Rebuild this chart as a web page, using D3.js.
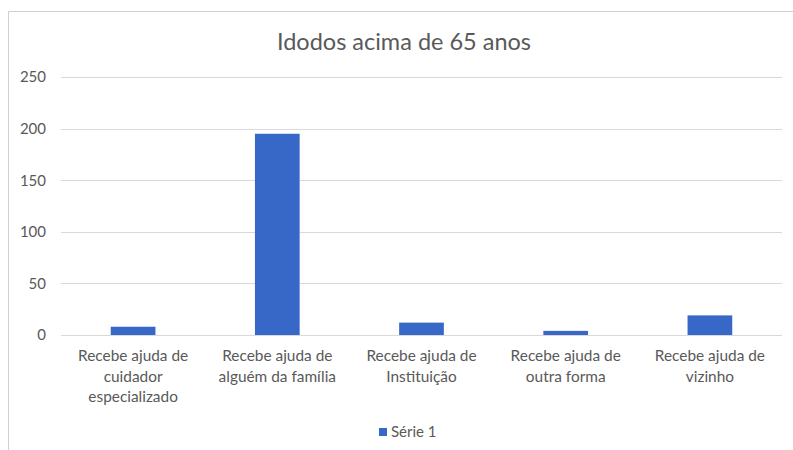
<!DOCTYPE html>
<html>
<head>
<meta charset="utf-8">
<script src="https://cdn.jsdelivr.net/npm/d3@7"></script>
<style>
  html, body { margin: 0; padding: 0; background: #fff; }
  svg { display: block; }
  text { font-family: Lato, "Open Sans", sans-serif; fill: #595959; }
</style>
</head>
<body>
<svg id="chart" width="793" height="450"></svg>
<script>
const title = "Idodos acima de 65 anos";
const categories = [
  ["Recebe ajuda de", "cuidador", "especializado"],
  ["Recebe ajuda de", "alguém da família"],
  ["Recebe ajuda de", "Instituição"],
  ["Recebe ajuda de", "outra forma"],
  ["Recebe ajuda de", "vizinho"]
];
const seriesName = "Série 1";
const values = [8, 195, 12, 4, 19];
const yTicks = [0, 50, 100, 150, 200, 250];

const svg = d3.select("#chart");
const W = 793, H = 450;
const margin = { left: 61, right: 11, top: 77, bottom: 115 };

// outer border (partially cropped in original)
svg.append("path")
  .attr("d", `M8.5,${H} V11.5 H${W}`)
  .attr("fill", "none")
  .attr("stroke", "#d0d0d0")
  .attr("stroke-width", 1);

const keys = categories.map((c, i) => i);
const x = d3.scaleBand().domain(keys).range([margin.left, W - margin.right]).paddingInner(0.69).paddingOuter(0.345);
const y = d3.scaleLinear().domain([0, 250]).range([H - margin.bottom, margin.top]);

// gridlines
svg.append("g")
  .selectAll("line")
  .data(yTicks)
  .join("line")
  .attr("x1", margin.left)
  .attr("x2", W - margin.right)
  .attr("y1", d => Math.round(y(d)) + 0.5)
  .attr("y2", d => Math.round(y(d)) + 0.5)
  .attr("stroke", "#d9d9d9")
  .attr("stroke-width", 1);

// y axis labels
const yAxis = d3.axisLeft(y).tickValues(yTicks).tickSize(0).tickPadding(0);
const gy = svg.append("g").attr("transform", `translate(46,0)`).call(yAxis);
gy.select(".domain").remove();
gy.selectAll("text").style("font-size", "15px").attr("fill", "#595959").style("font-family", "Lato, 'Open Sans', sans-serif");

// bars
svg.append("g")
  .selectAll("rect")
  .data(values)
  .join("rect")
  .attr("x", (d, i) => x(i))
  .attr("width", x.bandwidth())
  .attr("y", d => y(d))
  .attr("height", d => y(0) - y(d))
  .attr("fill", "#3768c8");

// category labels
const xAxis = d3.axisBottom(x).tickSize(0).tickFormat(() => "");
const gx = svg.append("g").attr("transform", `translate(0,${y(0)})`).call(xAxis);
gx.select(".domain").remove();
gx.selectAll(".tick").each(function(d) {
  const t = d3.select(this).append("text")
    .attr("text-anchor", "middle")
    .style("font-size", "15.4px")
    .attr("fill", "#595959");
  categories[d].forEach((line, j) => {
    t.append("tspan").attr("x", 0).attr("y", 26 + j * 20.5).text(line);
  });
});

// title
svg.append("text")
  .attr("x", 404)
  .attr("y", 50)
  .attr("text-anchor", "middle")
  .style("font-size", "23.5px")
  .text(title);

// legend
const lg = svg.append("g").attr("transform", "translate(379,428)");
lg.append("rect").attr("width", 8).attr("height", 8).attr("fill", "#3768c8");
lg.append("text").attr("x", 12).attr("y", 9).style("font-size", "15px").text(seriesName);
</script>
</body>
</html>
